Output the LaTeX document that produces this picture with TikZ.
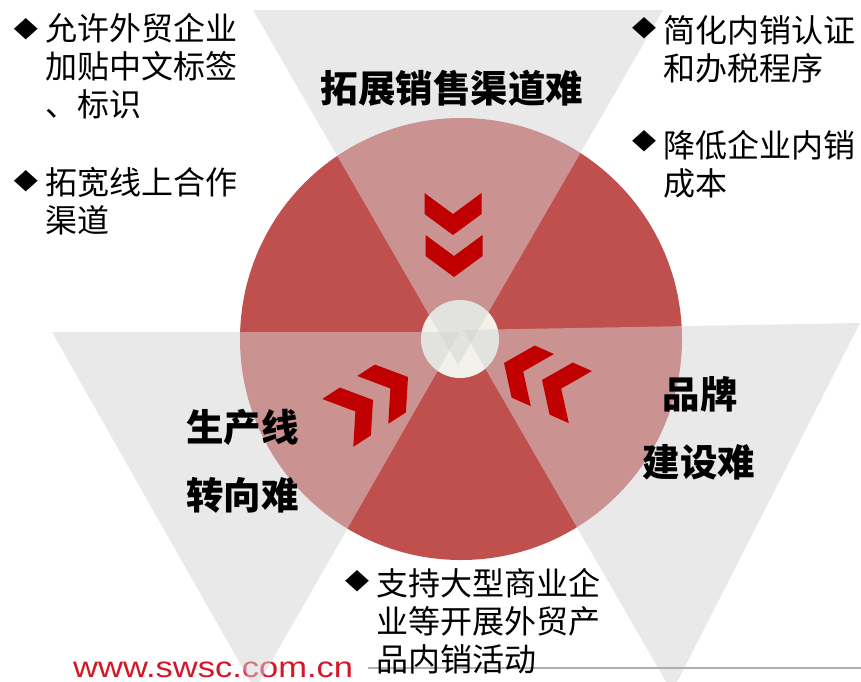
\documentclass[tikz,border=0pt]{standalone}
\usepackage{fontspec}
\usepackage{graphicx}
\setmainfont{Liberation Sans}
\newfontfamily\cjk{Noto Sans CJK SC}
\newfontfamily\djv{DejaVu Sans}
\definecolor{circred}{RGB}{192,80,77}
\definecolor{cream}{RGB}{242,242,234}
\definecolor{trigray}{RGB}{212,212,212}
\definecolor{chevred}{RGB}{192,0,0}
\definecolor{webred}{RGB}{212,22,40}
\definecolor{linegray}{RGB}{175,175,175}
\begin{document}
\begin{tikzpicture}[x=1pt,y=-1pt,
  txt/.style={font=\cjk\fontsize{32}{38}\selectfont, align=left, inner sep=0pt, anchor=north west},
  ttl/.style={font=\cjk\bfseries\fontsize{37.5}{45}\selectfont, inner sep=0pt},
  bul/.style={inner sep=0pt},
  tri/.style={fill=trigray, fill opacity=0.5},
  chev/.pic={\fill[chevred] (0,0) -- (-21,28.5) -- (-42,28.5) -- (-21,0) -- (-42,-28.5) -- (-21,-28.5) -- cycle;}
]
\useasboundingbox (0,0) rectangle (861,681);
\fill[white] (0,0) rectangle (861,681);
% main disc and centre disc
\fill[circred] (461,339) circle[radius=221];
\fill[cream] (460,339) circle[radius=39];
% website (under the triangles)
\node[anchor=base west, inner sep=0pt, text=webred, font=\fontsize{29}{30}\selectfont] (web) at (73,677) {\scalebox{1.19}[1]{www.swsc.com.cn}};
% translucent triangles
\fill[tri] (253,10) -- (663,10) -- (458,365) -- cycle;
\fill[tri] (52,332) -- (460,332) -- (255,690) -- cycle;
\fill[tri] (463,330) -- (860,323) -- (672,692) -- cycle;
% bottom rule
\coordinate (lineL) at (368,668);
\coordinate (lineR) at (861,668);
\draw[linegray, line width=1.5pt] (lineL) -- (lineR);
% chevrons
\pic[rotate=-90] at (453,235) {chev};
\pic[rotate=-90] at (454,277) {chev};
\pic[rotate=33] at (373,400) {chev};
\pic[rotate=33] at (408,377) {chev};
\pic[rotate=156] at (504,363) {chev};
\pic[rotate=156] at (542,380) {chev};
% titles
\node[ttl] (tTop) at (452,88) {拓展销售渠道难};
\node[ttl, anchor=west] (tL1) at (186,427.5) {生产线};
\node[ttl, anchor=west] (tL2) at (186,495) {转向难};
\node[ttl] (tR1) at (700,394) {品牌};
\node[ttl] (tR2) at (699,462) {建设难};
% bullets
\node[bul] (b1) at (26,29) {\resizebox{24pt}{18pt}{\djv ◆}};
\node[bul] (b2) at (26,181) {\resizebox{24pt}{18pt}{\djv ◆}};
\node[bul] (b3) at (644,28) {\resizebox{24pt}{18pt}{\djv ◆}};
\node[bul] (b4) at (644,141) {\resizebox{24pt}{18pt}{\djv ◆}};
\node[bul] (b5) at (357,581) {\resizebox{24pt}{18pt}{\djv ◆}};
% bullet texts
\node[txt] (s1) at (45,13) {允许外贸企业\\加贴中文标签\\、标识};
\node[txt] (s2) at (45,167) {拓宽线上合作\\渠道};
\node[txt] (s3) at (663,15) {简化内销认证\\和办税程序};
\node[txt] (s4) at (663,130) {降低企业内销\\成本};
\node[txt] (s5) at (376,568) {支持大型商业企\\业等开展外贸产\\品内销活动};
\end{tikzpicture}
\end{document}
